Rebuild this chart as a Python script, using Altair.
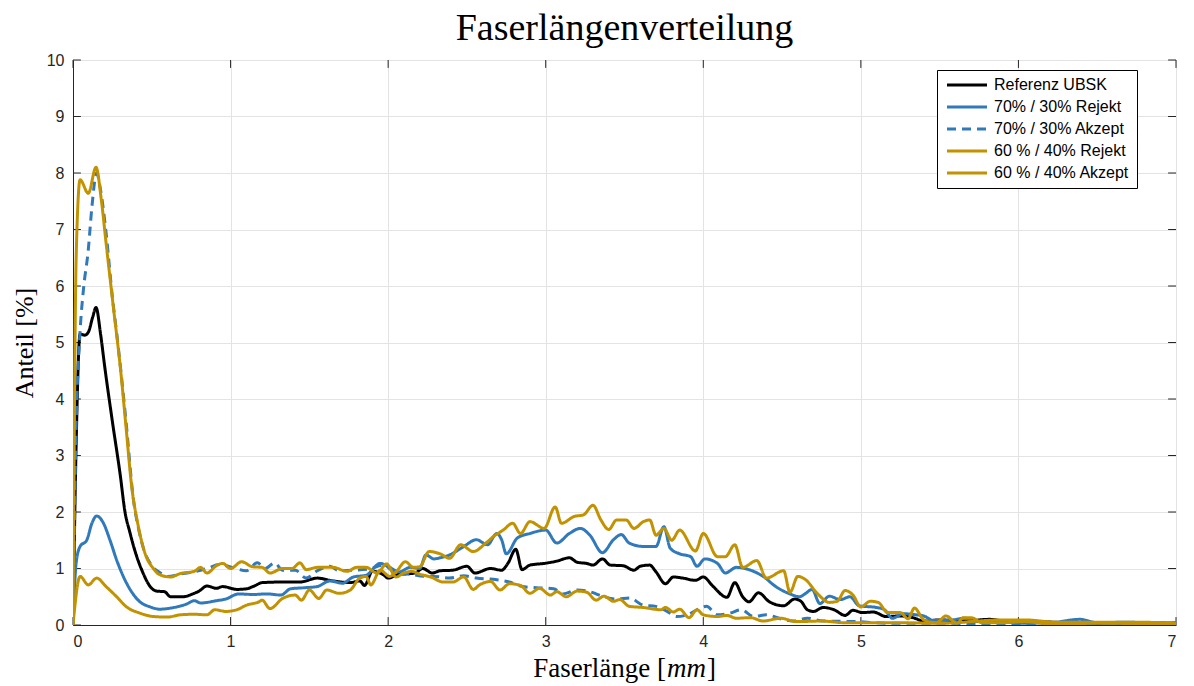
import altair as alt
import pandas as pd

# Faserlängenverteilung: Anteil [%] über Faserlänge [mm]
ref_x = [0, 0.02, 0.045, 0.075, 0.097, 0.125, 0.146, 0.175, 0.2, 0.25, 0.3, 0.33, 0.36, 0.4, 0.44,
         0.49, 0.53, 0.58, 0.62, 0.7, 0.76, 0.8, 0.85, 0.91, 0.95, 1.04, 1.1, 1.15, 1.2, 1.31,
         1.44, 1.55, 1.65, 1.76, 1.82, 1.85, 1.9, 1.97, 2.0, 2.06, 2.17, 2.22, 2.28, 2.33, 2.41,
         2.5, 2.55, 2.65, 2.72, 2.76, 2.81, 2.85, 2.9, 2.99, 3.07, 3.15, 3.2, 3.26, 3.3, 3.36,
         3.41, 3.49, 3.56, 3.6, 3.66, 3.7, 3.76, 3.81, 3.87, 3.95, 4.0, 4.06, 4.15, 4.2, 4.25,
         4.29, 4.35, 4.42, 4.51, 4.58, 4.62, 4.66, 4.7, 4.76, 4.83, 4.9, 4.95, 5.01, 5.08, 5.16,
         5.25, 5.33, 5.4, 5.5, 5.65, 5.82, 5.95, 6.1, 6.3, 6.5, 6.7, 7.0]
ref_y = [0, 3.2, 5.15, 5.13, 5.18, 5.45, 5.62, 5.15, 4.6, 3.6, 2.65, 2.0, 1.65, 1.25, 0.95,
         0.68, 0.6, 0.59, 0.5, 0.5, 0.55, 0.6, 0.69, 0.65, 0.68, 0.63, 0.64, 0.69, 0.75, 0.76,
         0.76, 0.83, 0.78, 0.75, 0.78, 0.7, 0.95, 0.89, 0.83, 0.89, 0.92, 1.0, 0.92, 0.96, 0.97,
         1.04, 0.92, 1.0, 0.97, 1.09, 1.34, 0.98, 1.06, 1.09, 1.13, 1.19, 1.11, 1.09, 1.06, 1.17,
         1.06, 1.05, 0.97, 1.04, 1.06, 0.94, 0.73, 0.85, 0.83, 0.79, 0.85, 0.69, 0.49, 0.75, 0.5,
         0.41, 0.57, 0.41, 0.34, 0.46, 0.42, 0.27, 0.24, 0.31, 0.27, 0.17, 0.26, 0.22, 0.23, 0.15,
         0.16, 0.13, 0.07, 0.09, 0.07, 0.1, 0.05, 0.06, 0.04, 0.03, 0.04, 0.03]

rej70_x = [0, 0.02, 0.045, 0.087, 0.12, 0.15, 0.19, 0.235, 0.277, 0.34, 0.425, 0.49, 0.55, 0.62,
           0.72, 0.77, 0.81, 0.91, 0.97, 1.05, 1.14, 1.23, 1.32, 1.38, 1.47, 1.55, 1.63, 1.71,
           1.78, 1.86, 1.95, 2.01, 2.07, 2.14, 2.2, 2.24, 2.29, 2.33, 2.39, 2.48, 2.56, 2.63,
           2.69, 2.72, 2.75, 2.82, 2.9, 3.0, 3.07, 3.15, 3.22, 3.28, 3.36, 3.43, 3.48, 3.53,
           3.62, 3.7, 3.75, 3.79, 3.85, 3.92, 3.96, 4.01, 4.09, 4.14, 4.21, 4.3, 4.38, 4.46,
           4.55, 4.61, 4.65, 4.69, 4.74, 4.8, 4.87, 4.93, 4.99, 5.1, 5.15, 5.2, 5.27, 5.35, 5.4,
           5.46, 5.58, 5.66, 5.73, 5.9, 6.0, 6.2, 6.39, 6.5, 6.7, 6.85, 7.0]
rej70_y = [0, 1.1, 1.39, 1.5, 1.8, 1.93, 1.82, 1.5, 1.15, 0.74, 0.41, 0.32, 0.28, 0.3,
           0.37, 0.43, 0.39, 0.43, 0.46, 0.55, 0.54, 0.55, 0.53, 0.64, 0.66, 0.68, 0.78, 0.74,
           0.85, 0.88, 1.09, 1.02, 0.94, 1.02, 1.0, 1.24, 1.17, 1.19, 1.24, 1.39, 1.51, 1.42,
           1.62, 1.51, 1.26, 1.54, 1.62, 1.68, 1.45, 1.62, 1.71, 1.59, 1.28, 1.51, 1.6, 1.45,
           1.39, 1.39, 1.74, 1.36, 1.26, 1.21, 1.04, 1.17, 1.09, 0.92, 1.02, 0.97, 0.86, 0.68,
           0.55, 0.5, 0.56, 0.63, 0.38, 0.51, 0.45, 0.5, 0.34, 0.31, 0.27, 0.12, 0.2, 0.18, 0.16,
           0.08, 0.09, 0.12, 0.06, 0.08, 0.03, 0.04, 0.1, 0.04, 0.05, 0.03, 0.04]

akz70_x = [0, 0.02, 0.045, 0.066, 0.097, 0.12, 0.15, 0.175, 0.21, 0.25, 0.28, 0.34, 0.38, 0.42,
           0.45, 0.5, 0.55, 0.6, 0.68, 0.78, 0.85, 0.93, 1.01, 1.1, 1.17, 1.22, 1.28, 1.33, 1.41,
           1.48, 1.55, 1.63, 1.69, 1.78, 1.88, 1.97, 2.03, 2.14, 2.24, 2.29, 2.39, 2.48, 2.56,
           2.69, 2.77, 2.85, 2.94, 3.05, 3.11, 3.2, 3.28, 3.37, 3.45, 3.53, 3.62, 3.7, 3.77,
           3.83, 3.9, 3.96, 4.02, 4.09, 4.17, 4.24, 4.32, 4.4, 4.49, 4.57, 4.66, 4.76, 4.97,
           5.18, 5.5, 6.0, 7.0]
akz70_y = [0, 3.5, 5.2, 5.93, 6.64, 7.4, 8.0, 7.7, 6.94, 5.8, 5.1, 3.5, 2.3, 1.65,
           1.33, 1.05, 0.93, 0.86, 0.9, 0.95, 1.0, 1.07, 1.02, 0.96, 1.1, 1.0, 1.1, 0.97, 0.97,
           0.83, 0.96, 1.04, 0.96, 0.97, 0.99, 1.06, 0.96, 0.9, 0.86, 0.86, 0.83, 0.87, 0.83,
           0.8, 0.76, 0.68, 0.66, 0.64, 0.55, 0.62, 0.59, 0.5, 0.46, 0.48, 0.35, 0.33, 0.24,
           0.15, 0.18, 0.27, 0.33, 0.18, 0.21, 0.27, 0.15, 0.18, 0.11, 0.07, 0.12, 0.07, 0.06,
           0.03, 0.03, 0.02, 0.02]

rej60_x = [0, 0.045, 0.097, 0.15, 0.21, 0.277, 0.34, 0.425, 0.51, 0.6, 0.68, 0.77, 0.85, 0.9,
           0.97, 1.04, 1.1, 1.18, 1.2, 1.25, 1.33, 1.41, 1.45, 1.5, 1.56, 1.61, 1.69, 1.76, 1.82,
           1.86, 1.89, 1.95, 2.01, 2.05, 2.11, 2.16, 2.2, 2.26, 2.33, 2.39, 2.46, 2.54, 2.62,
           2.67, 2.73, 2.79, 2.84, 2.9, 2.99, 3.06, 3.1, 3.18, 3.24, 3.3, 3.35, 3.4, 3.45, 3.51,
           3.56, 3.62, 3.66, 3.7, 3.75, 3.8, 3.85, 3.95, 4.0, 4.09, 4.14, 4.2, 4.25, 4.34, 4.4,
           4.51, 4.55, 4.6, 4.65, 4.72, 4.8, 4.85, 4.9, 4.95, 5.0, 5.06, 5.11, 5.17, 5.25, 5.3,
           5.34, 5.4, 5.48, 5.54, 5.61, 5.65, 5.7, 5.77, 5.9, 6.04, 6.2, 6.5, 7.0]
rej60_y = [0, 0.86, 0.71, 0.83, 0.68, 0.5, 0.32, 0.21, 0.15, 0.14, 0.18, 0.19, 0.18, 0.27,
           0.24, 0.27, 0.35, 0.41, 0.44, 0.29, 0.47, 0.53, 0.44, 0.62, 0.47, 0.62, 0.56, 0.62, 0.83,
           0.86, 0.71, 0.97, 0.86, 0.94, 1.12, 1.02, 1.03, 1.3, 1.26, 1.18, 1.42, 1.3, 1.45,
           1.57, 1.68, 1.8, 1.62, 1.83, 1.71, 2.09, 1.8, 1.92, 1.95, 2.12, 1.86, 1.69, 1.86, 1.86,
           1.71, 1.83, 1.86, 1.59, 1.71, 1.5, 1.68, 1.31, 1.62, 1.21, 1.21, 1.42, 1.02, 1.14, 0.83,
           0.96, 0.58, 0.86, 0.8, 0.57, 0.4, 0.42, 0.61, 0.53, 0.32, 0.42, 0.4, 0.22, 0.22, 0.11,
           0.3, 0.09, 0.04, 0.16, 0.03, 0.13, 0.13, 0.04, 0.04, 0.06, 0.02, 0.03, 0.02]

akz60_x = [0, 0.02, 0.045, 0.097, 0.146, 0.18, 0.21, 0.256, 0.3, 0.34, 0.37, 0.415, 0.457, 0.51,
           0.55, 0.62, 0.68, 0.77, 0.81, 0.85, 0.91, 0.95, 1.0, 1.07, 1.14, 1.2, 1.25, 1.33, 1.39,
           1.44, 1.48, 1.55, 1.65, 1.74, 1.8, 1.86, 1.93, 1.99, 2.05, 2.1, 2.15, 2.2, 2.27, 2.35,
           2.41, 2.48, 2.54, 2.58, 2.65, 2.71, 2.77, 2.84, 2.9, 2.96, 3.03, 3.07, 3.13, 3.2,
           3.26, 3.32, 3.37, 3.43, 3.47, 3.53, 3.62, 3.73, 3.76, 3.81, 3.85, 3.91, 3.96, 4.0,
           4.09, 4.15, 4.21, 4.3, 4.38, 4.49, 4.59, 4.75, 4.9, 5.2, 5.5, 5.9, 6.04, 6.24, 6.54,
           6.75, 7.0]
akz60_y = [0, 6.5, 7.88, 7.64, 8.1, 7.52, 6.76, 5.63, 4.57, 3.4, 2.51, 1.74, 1.27, 1.0,
           0.89, 0.85, 0.91, 0.95, 1.02, 0.92, 1.05, 1.09, 1.0, 1.12, 1.03, 1.02, 0.92, 1.0, 1.0,
           1.1, 0.98, 1.02, 1.02, 0.95, 1.02, 1.02, 0.92, 1.08, 0.85, 0.92, 0.95, 0.9, 0.85, 0.76,
           0.76, 0.85, 0.63, 0.71, 0.77, 0.62, 0.73, 0.7, 0.56, 0.65, 0.53, 0.59, 0.5, 0.6,
           0.58, 0.44, 0.51, 0.42, 0.45, 0.33, 0.31, 0.27, 0.31, 0.23, 0.28, 0.13, 0.27, 0.18,
           0.15, 0.17, 0.12, 0.13, 0.07, 0.12, 0.06, 0.07, 0.04, 0.04, 0.03, 0.09, 0.09, 0.05, 0.05,
           0.05, 0.03]

names = ["Referenz UBSK", "70% / 30% Rejekt", "70% / 30% Akzept",
         "60 % / 40% Rejekt", "60 % / 40% Akzept"]
colors = ["#000000", "#3079bb", "#3079bb", "#c39200", "#c39200"]
dashes = [[1, 0], [1, 0], [9, 6], [1, 0], [1, 0]]
series_x = [ref_x, rej70_x, akz70_x, rej60_x, akz60_x]
series_y = [ref_y, rej70_y, akz70_y, rej60_y, akz60_y]

x_ticks = [0, 1, 2, 3, 4, 5, 6, 7]
y_ticks = [0, 1, 2, 3, 4, 5, 6, 7, 8, 9, 10]

rows = []
for name, xs, ys in zip(names, series_x, series_y):
    for i, (xv, yv) in enumerate(zip(xs, ys)):
        rows.append({"serie": name, "x": xv, "y": yv, "i": i})
df = pd.DataFrame(rows)

W, H = 1103, 565
AX = "#262626"

xscale = alt.Scale(domain=[0, 7], nice=False, zero=False)
yscale = alt.Scale(domain=[0, 10], nice=False)

# short line glyph for the legend: a horizontal stroke of about 40 px
legend = alt.Legend(
    title=None, orient="none", legendX=864, legendY=10,
    strokeColor="#000000", fillColor="white", padding=7,
    labelFont="Liberation Sans", labelFontSize=16, labelColor="black",
    symbolType="M-1,0L7,0", symbolStrokeWidth=3, symbolSize=100,
    rowPadding=6, labelOffset=34, cornerRadius=0,
)
color = alt.Color("serie:N", scale=alt.Scale(domain=names, range=colors), legend=legend)
dash = alt.StrokeDash("serie:N", scale=alt.Scale(domain=names, range=dashes), legend=legend)

x_axis = alt.Axis(values=x_ticks, format="d", title=None, grid=True, gridColor="#e3e3e3",
                  ticks=False, domainColor=AX, labelColor=AX, labelFont="Liberation Sans",
                  labelFontSize=16, labelPadding=8)
y_axis = alt.Axis(values=y_ticks, format="d", title="Anteil [%]", grid=True, gridColor="#e3e3e3",
                  ticks=False, domainColor=AX, labelColor=AX, labelFont="Liberation Sans",
                  labelFontSize=16, labelPadding=9, titleFont="Liberation Serif",
                  titleFontSize=26, titleFontWeight="normal", titleColor="black",
                  titlePadding=9)

base = alt.Chart(df)
layers = []
for k, name in enumerate(names):
    layers.append(
        base.transform_filter(alt.datum.serie == name).mark_line(
            strokeWidth=3, strokeJoin="round", strokeCap="butt", clip=True,
            interpolate="monotone"
        ).encode(
            x=alt.X("x:Q", scale=xscale, axis=x_axis),
            y=alt.Y("y:Q", scale=yscale, axis=y_axis),
            color=color,
            strokeDash=dash,
            order="i:Q",
        )
    )

# inward tick marks on all four sides of the box
xt = alt.Chart(pd.DataFrame({"t": x_ticks}))
yt = alt.Chart(pd.DataFrame({"t": y_ticks}))
tick_style = dict(color=AX, strokeWidth=1)
ticks = [
    xt.mark_rule(**tick_style).encode(x=alt.X("t:Q", scale=xscale), y=alt.datum(0), y2=alt.datum(0.14)),
    xt.mark_rule(**tick_style).encode(x=alt.X("t:Q", scale=xscale), y=alt.datum(10), y2=alt.datum(9.86)),
    yt.mark_rule(**tick_style).encode(y=alt.Y("t:Q", scale=yscale), x=alt.datum(0), x2=alt.datum(0.05)),
    yt.mark_rule(**tick_style).encode(y=alt.Y("t:Q", scale=yscale), x=alt.datum(7), x2=alt.datum(6.95)),
]

# x-axis title with italic unit
lab = alt.Chart(pd.DataFrame({"a": [0]}))
tstyle = dict(font="Liberation Serif", fontSize=27, color="black", baseline="alphabetic")
xtitle = [
    lab.mark_text(align="right", **tstyle).encode(x=alt.value(593), y=alt.value(H + 52), text=alt.value("Faserlänge [")),
    lab.mark_text(align="left", fontStyle="italic", **tstyle).encode(x=alt.value(594), y=alt.value(H + 52), text=alt.value("mm")),
    lab.mark_text(align="left", **tstyle).encode(x=alt.value(634), y=alt.value(H + 52), text=alt.value("]")),
]

chart = alt.layer(*ticks, *layers, *xtitle).properties(
    width=W, height=H,
    title=alt.Title("Faserlängenverteilung", font="Liberation Serif", fontSize=38,
                    fontWeight="normal", color="black", anchor="middle", offset=4),
    autosize=alt.AutoSizeParams(type="none"),
    padding={"left": 73, "top": 60, "right": 18, "bottom": 61},
).configure_view(
    stroke=AX, strokeWidth=1
).configure(background="white")

chart.save("out.html", embed_options={"renderer": "svg", "actions": False})
